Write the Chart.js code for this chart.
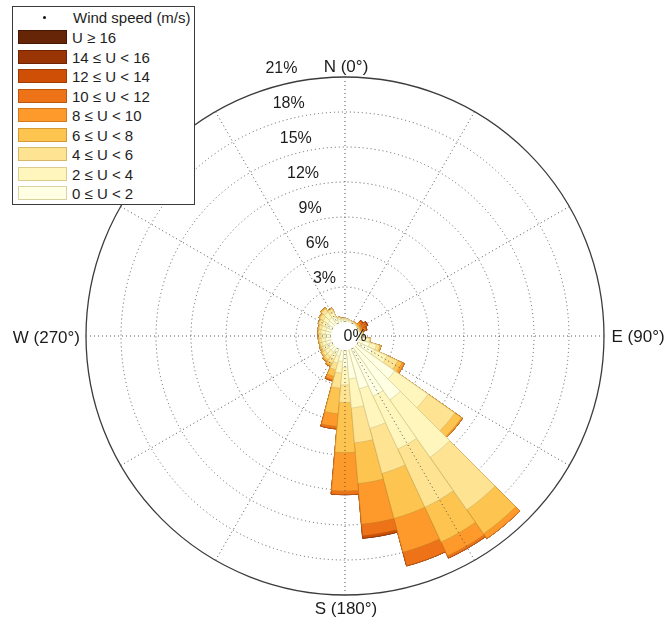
<!DOCTYPE html>
<html>
<head>
<meta charset="utf-8">
<title>Wind rose</title>
<script src="https://cdn.jsdelivr.net/npm/chart.js@4.4.1/dist/chart.umd.min.js"></script>
<style>
  html, body { margin: 0; padding: 0; background: #ffffff; }
  #wrap { position: relative; width: 665px; height: 621px; }
  #rose { position: absolute; left: 0; top: 0; }
  #legend {
    position: absolute; left: 12px; top: 6px; width: 183px; height: 199px;
    box-sizing: border-box; border: 1px solid #3a3a3a; background: #ffffff;
    font-family: "Liberation Sans", Arial, sans-serif; font-size: 15px; color: #1e1e1e;
  }
  #legend .title { position: absolute; left: 0; top: 3px; height: 16px; line-height: 16px; width: 100%; }
  #legend .title .dot { position: absolute; left: 30px; top: 6px; width: 3px; height: 3px; border-radius: 50%; background: #111; }
  #legend .title span.t { position: absolute; left: 60px; white-space: nowrap; }
  #legend .row { position: absolute; left: 5px; height: 15px; line-height: 15px; white-space: nowrap; }
  #legend .sw { position: absolute; left: 0; top: 0; width: 49px; height: 14px; box-sizing: border-box; border: 1px solid; }
  #legend .lbl { position: absolute; left: 54px; top: 0; }
</style>
</head>
<body>
<div id="wrap">
  <canvas id="rose" width="665" height="621"></canvas>
  <div id="legend"></div>
</div>
<script>
// Direction sectors (degrees, clockwise from north), 10° wide
const directions = [0, 10, 20, 30, 40, 50, 60, 70, 80, 90, 100, 110,
                    120, 130, 140, 150, 160, 170, 180, 190, 200, 210, 220, 230,
                    240, 250, 260, 270, 280, 290, 300, 310, 320, 330, 340, 350];

// Frequency (%) of each wind-speed class per direction
const u0to2   = [0.20, 0.15, 0.15, 0.10, 0.10, 0.05, 0.05, 0.05, 0.20, 0.30, 0.60, 1.00,
                 1.50, 4.00, 5.50, 4.50, 3.50, 2.50, 1.50, 1.00, 0.60, 0.50, 0.50, 0.50,
                 0.50, 0.50, 0.50, 0.50, 0.50, 0.50, 0.55, 0.60, 0.70, 0.60, 0.30, 0.20];
const u2to4   = [0.10, 0.10, 0.05, 0.05, 0.05, 0.05, 0.05, 0.05, 0.10, 0.10, 0.30, 0.60,
                 1.30, 3.50, 6.00, 5.00, 3.50, 2.50, 1.50, 1.00, 0.60, 0.50, 0.45, 0.40,
                 0.40, 0.35, 0.35, 0.35, 0.40, 0.40, 0.45, 0.50, 0.60, 0.50, 0.15, 0.10];
const u4to6   = [0.00, 0.00, 0.00, 0.05, 0.05, 0.05, 0.05, 0.05, 0.05, 0.00, 0.10, 0.30,
                 1.00, 2.80, 5.50, 5.50, 4.00, 3.00, 1.50, 1.30, 0.60, 0.40, 0.35, 0.30,
                 0.20, 0.20, 0.20, 0.20, 0.20, 0.25, 0.30, 0.35, 0.35, 0.30, 0.05, 0.05];
const u6to8   = [0.00, 0.00, 0.00, 0.00, 0.05, 0.10, 0.10, 0.05, 0.00, 0.00, 0.00, 0.10,
                 0.40, 0.70, 2.50, 3.30, 4.00, 3.50, 4.30, 2.20, 0.60, 0.20, 0.15, 0.10,
                 0.10, 0.05, 0.05, 0.05, 0.05, 0.05, 0.05, 0.10, 0.10, 0.05, 0.00, 0.00];
const u8to10  = [0.00, 0.00, 0.00, 0.00, 0.00, 0.20, 0.20, 0.20, 0.00, 0.00, 0.00, 0.00,
                 0.20, 0.10, 0.50, 1.30, 3.00, 3.50, 3.30, 1.10, 0.30, 0.10, 0.05, 0.00,
                 0.00, 0.00, 0.00, 0.00, 0.00, 0.00, 0.00, 0.00, 0.00, 0.00, 0.00, 0.00];
const u10to12 = [0.00, 0.00, 0.00, 0.00, 0.00, 0.20, 0.40, 0.30, 0.00, 0.00, 0.00, 0.00,
                 0.00, 0.00, 0.00, 0.20, 1.20, 1.00, 0.30, 0.20, 0.10, 0.00, 0.00, 0.00,
                 0.00, 0.00, 0.00, 0.00, 0.00, 0.00, 0.00, 0.00, 0.00, 0.00, 0.00, 0.00];
const u12to14 = [0.00, 0.00, 0.00, 0.00, 0.00, 0.05, 0.10, 0.05, 0.00, 0.00, 0.00, 0.00,
                 0.00, 0.00, 0.00, 0.00, 0.00, 0.20, 0.00, 0.00, 0.00, 0.00, 0.00, 0.00,
                 0.00, 0.00, 0.00, 0.00, 0.00, 0.00, 0.00, 0.00, 0.00, 0.00, 0.00, 0.00];
const u14to16 = [0.00, 0.00, 0.00, 0.00, 0.00, 0.00, 0.00, 0.00, 0.00, 0.00, 0.00, 0.00,
                 0.00, 0.00, 0.00, 0.00, 0.00, 0.00, 0.00, 0.00, 0.00, 0.00, 0.00, 0.00,
                 0.00, 0.00, 0.00, 0.00, 0.00, 0.00, 0.00, 0.00, 0.00, 0.00, 0.00, 0.00];
const u16up   = [0.00, 0.00, 0.00, 0.00, 0.00, 0.00, 0.00, 0.00, 0.00, 0.00, 0.00, 0.00,
                 0.00, 0.00, 0.00, 0.00, 0.00, 0.00, 0.00, 0.00, 0.00, 0.00, 0.00, 0.00,
                 0.00, 0.00, 0.00, 0.00, 0.00, 0.00, 0.00, 0.00, 0.00, 0.00, 0.00, 0.00];

const speedClasses = ['0 \u2264 U < 2', '2 \u2264 U < 4', '4 \u2264 U < 6', '6 \u2264 U < 8',
                      '8 \u2264 U < 10', '10 \u2264 U < 12', '12 \u2264 U < 14', '14 \u2264 U < 16', 'U \u2265 16'];
const classSeries = [u0to2, u2to4, u4to6, u6to8, u8to10, u10to12, u12to14, u14to16, u16up];

// Radial tick labels (%)
const ringTicks = [0, 3, 6, 9, 12, 15, 18, 21];
const cardinalLabels = ['N (0\u00b0)', 'E (90\u00b0)', 'S (180\u00b0)', 'W (270\u00b0)'];

// Styling
const fillColors   = ['#ffffe3', '#fff6bd', '#fee392', '#fec450', '#fe9a2c', '#ee7318', '#cf4f06', '#993404', '#662506'];
const strokeColors = ['#d9d3a2', '#dccd8e', '#d6b766', '#d49a34', '#d27a1e', '#bd5810', '#9f3c05', '#6f2503', '#461803'];
const FONT = '"Liberation Sans", Arial, sans-serif';

// Stacked petals: each class is drawn as a wedge reaching the running total,
// lower classes on top so every band shows between its two totals.
const running = directions.map(() => 0);
const datasets = classSeries.map((series, k) => {
  const cum = series.map((v, i) => (running[i] += v, +running[i].toFixed(3)));
  return {
    label: speedClasses[k],
    data: cum,
    backgroundColor: fillColors[k],
    borderColor: strokeColors[k],
    borderWidth: 0.8
  };
});

const roseDecor = {
  id: 'roseDecor',
  afterDatasetsDraw(chart) {
    const s = chart.scales.r;
    const ctx = chart.ctx;
    const xc = s.xCenter, yc = s.yCenter;
    const r0 = s.getDistanceFromCenterForValue(0);
    const r1 = s.getDistanceFromCenterForValue(21);
    // calm-centre hole
    ctx.save();
    ctx.fillStyle = '#ffffff';
    ctx.beginPath();
    ctx.arc(xc, yc, r0, 0, Math.PI * 2);
    ctx.fill();
    // dotted spokes every 30°
    ctx.strokeStyle = '#555555';
    ctx.lineWidth = 1;
    ctx.setLineDash([1, 3]);
    for (let b = 0; b < 360; b += 30) {
      const a = (b - 90) * Math.PI / 180;
      ctx.beginPath();
      ctx.moveTo(xc + r0 * Math.cos(a), yc + r0 * Math.sin(a));
      ctx.lineTo(xc + r1 * Math.cos(a), yc + r1 * Math.sin(a));
      ctx.stroke();
    }
    ctx.restore();
  },
  afterDraw(chart) {
    const s = chart.scales.r;
    const ctx = chart.ctx;
    const xc = s.xCenter, yc = s.yCenter;
    ctx.save();
    ctx.fillStyle = '#1c1c1c';
    ctx.textBaseline = 'middle';
    ctx.font = '16px ' + FONT;
    // ring labels, set just outside each ring left of north
    ctx.textAlign = 'center';
    ringTicks.forEach(v => {
      if (v === 0) return;
      const R = s.getDistanceFromCenterForValue(v);
      ctx.fillText(v + '%', xc - 9 - 0.205 * (R + 7), yc - (R + 8));
    });
    ctx.textAlign = 'left';
    ctx.fillText('0%', xc - 1.5, yc + 1);
    // compass labels
    const Rm = s.getDistanceFromCenterForValue(21);
    ctx.font = '17px ' + FONT;
    ctx.textAlign = 'center';
    ctx.fillText(cardinalLabels[0], xc + 1, yc - Rm - 9.5);
    ctx.fillText(cardinalLabels[2], xc + 1, yc + Rm + 14);
    ctx.textAlign = 'left';
    ctx.fillText(cardinalLabels[1], xc + Rm + 7.5, yc + 1.5);
    ctx.textAlign = 'right';
    ctx.fillText(cardinalLabels[3], xc - Rm - 6, yc + 2.5);
    ctx.restore();
  }
};

const chart = new Chart(document.getElementById('rose'), {
  type: 'polarArea',
  data: { labels: directions.map(d => d + '\u00b0'), datasets },
  options: {
    responsive: false,
    animation: false,
    events: [],
    layout: { padding: { left: 86, right: 61, top: 77, bottom: 26 } },
    plugins: { legend: { display: false }, tooltip: { enabled: false } },
    scales: {
      r: {
        min: -1.2,
        max: 21,
        startAngle: -5,
        afterBuildTicks: (scale) => { scale.ticks = ringTicks.map(v => ({ value: v })); },
        ticks: { display: false, z: 1 },
        grid: {
          circular: true,
          color: (c) => (c.tick && c.tick.value === 21) ? '#3c3c3c' : '#5a5a5a',
          lineWidth: (c) => (c.tick && c.tick.value === 21) ? 1.3 : 1
        },
        border: { dash: (c) => (c.tick && c.tick.value === 21) ? [] : [1, 3] },
        angleLines: { display: false },
        pointLabels: { display: false }
      }
    }
  },
  plugins: [roseDecor]
});

// Legend: heaviest class first
const legend = document.getElementById('legend');
legend.innerHTML = '<div class="title"><span class="dot"></span><span class="t">Wind speed (m/s)</span></div>';
const legendTops = [23, 42.5, 62, 81.5, 101, 120.5, 140, 159.5, 179];
for (let j = 0; j < speedClasses.length; j++) {
  const k = speedClasses.length - 1 - j;
  const row = document.createElement('div');
  row.className = 'row';
  row.style.top = legendTops[j] + 'px';
  row.innerHTML = '<span class="sw" style="background:' + fillColors[k] + ';border-color:' + strokeColors[k] + '"></span>' +
                  '<span class="lbl">' + speedClasses[k] + '</span>';
  legend.appendChild(row);
}
</script>
</body>
</html>
